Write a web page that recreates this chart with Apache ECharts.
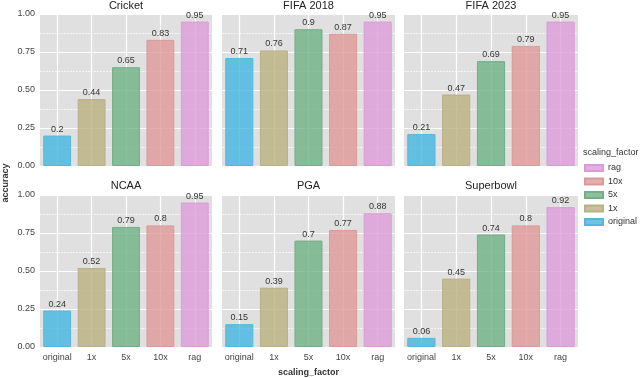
<!DOCTYPE html>
<html>
<head>
<meta charset="utf-8">
<script src="https://cdn.jsdelivr.net/npm/echarts@6/dist/echarts.min.js"></script>
<style>
  html, body { margin: 0; padding: 0; background: #fff; }
  #chart { width: 640px; height: 378px; }
</style>
</head>
<body>
<div id="chart"></div>
<script>
// data
const factors = ['original', '1x', '5x', '10x', 'rag'];
const panels = ['Cricket', 'FIFA 2018', 'FIFA 2023', 'NCAA', 'PGA', 'Superbowl'];
const cricket = [0.2, 0.44, 0.65, 0.83, 0.95];
const fifa2018 = [0.71, 0.76, 0.9, 0.87, 0.95];
const fifa2023 = [0.21, 0.47, 0.69, 0.79, 0.95];
const ncaa = [0.24, 0.52, 0.79, 0.8, 0.95];
const pga = [0.15, 0.39, 0.7, 0.77, 0.88];
const superbowl = [0.06, 0.45, 0.74, 0.8, 0.92];
const values = [cricket, fifa2018, fifa2023, ncaa, pga, superbowl];
const yTicks = ['0.00', '0.25', '0.50', '0.75', '1.00'];

const colors = {
  original: 'rgba(66,182,225,0.8)',
  '1x': 'rgba(186,176,126,0.8)',
  '5x': 'rgba(110,177,132,0.8)',
  '10x': 'rgba(222,154,151,0.8)',
  rag: 'rgba(221,156,219,0.8)'
};
const borders = {
  original: '#55b6dc',
  '1x': '#b9b088',
  '5x': '#74ae88',
  '10x': '#d99b99',
  rag: '#d99cd6'
};

const font = 'Liberation Sans, Arial, sans-serif';
const lefts = [40, 222, 404];
const widths = [172, 173, 174];
const tops = [14, 195];
const h = 152;

const chart = echarts.init(document.getElementById('chart'));

const grids = [];
const xAxes = [];
const yAxes = [];
const titles = [];
const series = [];

panels.forEach((name, g) => {
  const col = g % 3;
  const row = Math.floor(g / 3);
  grids.push({ left: lefts[col], top: tops[row], width: widths[col], height: h,
    show: true, backgroundColor: '#e0e0e0', borderWidth: 0 });

  titles.push({
    text: name,
    left: lefts[col] + widths[col] / 2,
    top: row === 0 ? 0 : 180,
    textAlign: 'center',
    padding: 0,
    textStyle: { fontFamily: font, fontSize: 11, fontWeight: 'normal', color: '#222' }
  });

  xAxes.push({
    type: 'category', gridIndex: g, data: factors,
    axisLine: { show: false }, axisTick: { show: false },
    axisLabel: { show: row === 1, interval: 0, fontFamily: font, fontSize: 9, color: '#444', margin: 6 },
    splitLine: { show: false },
    name: g === 4 ? 'scaling_factor' : '',
    nameLocation: 'middle', nameGap: 21,
    nameTextStyle: { fontFamily: font, fontSize: 9, fontWeight: 'bold', color: '#333' }
  });
  yAxes.push({
    type: 'value', gridIndex: g, min: 0, max: 1, interval: 0.25,
    axisLine: { show: false }, axisTick: { show: false },
    axisLabel: { show: col === 0, fontFamily: font, fontSize: 9, color: '#444', margin: 5,
      formatter: v => yTicks[Math.round(v / 0.25)] },
    splitLine: { show: true, lineStyle: { color: '#fff', width: 1.2 } },
    minorTick: { show: false, splitNumber: 2 },
    minorSplitLine: { show: true, lineStyle: { color: '#f6f6f6', width: 1, type: [2, 1] } }
  });

  // vertical grid lines at the bar centres, drawn under the bars
  series.push({
    type: 'line', xAxisIndex: g, yAxisIndex: g, data: [], z: 1, silent: true,
    markLine: {
      z: 1, silent: true, symbol: 'none', label: { show: false }, animation: false,
      lineStyle: { color: '#fff', width: 1.2, type: 'solid' },
      data: factors.map(f => ({ xAxis: f }))
    }
  });
});

panels.forEach((name, g) => {
  factors.forEach((f, i) => {
    const data = factors.map((_, j) => (j === i ? values[g][j] : '-'));
    series.push({
      name: f, type: 'bar', xAxisIndex: g, yAxisIndex: g, z: 2,
      data: data, barGap: '-100%', barCategoryGap: '19%',
      itemStyle: { color: colors[f], borderColor: borders[f], borderWidth: 1 },
      label: { show: true, position: 'top', distance: 2, fontFamily: font, fontSize: 9, color: '#333',
        formatter: p => String(p.value) }
    });
  });
});

titles.push({
  text: 'scaling_factor', left: 583, top: 148, padding: 0,
  textStyle: { fontFamily: font, fontSize: 9, fontWeight: 'normal', color: '#333' }
});

const options = {
  animation: false,
  backgroundColor: '#fff',
  title: titles,
  grid: grids,
  xAxis: xAxes,
  yAxis: yAxes,
  legend: {
    orient: 'vertical', left: 584, top: 162, padding: 0,
    data: ['rag', '10x', '5x', '1x', 'original'],
    icon: 'rect', itemWidth: 18, itemHeight: 6, itemGap: 1.5,
    selectedMode: false,
    textStyle: { fontFamily: font, fontSize: 9, color: '#333', lineHeight: 12 }
  },
  graphic: [{
    type: 'text', x: 6, y: 183, rotation: Math.PI / 2,
    style: { text: 'accuracy', fontFamily: font, fontSize: 9, fontWeight: 'bold', fill: '#333',
      textAlign: 'center', textVerticalAlign: 'middle' }
  }],
  series: series
};

chart.setOption(options);

window.addEventListener('resize', () => {
  chart.resize();
});
</script>
</body>
</html>
